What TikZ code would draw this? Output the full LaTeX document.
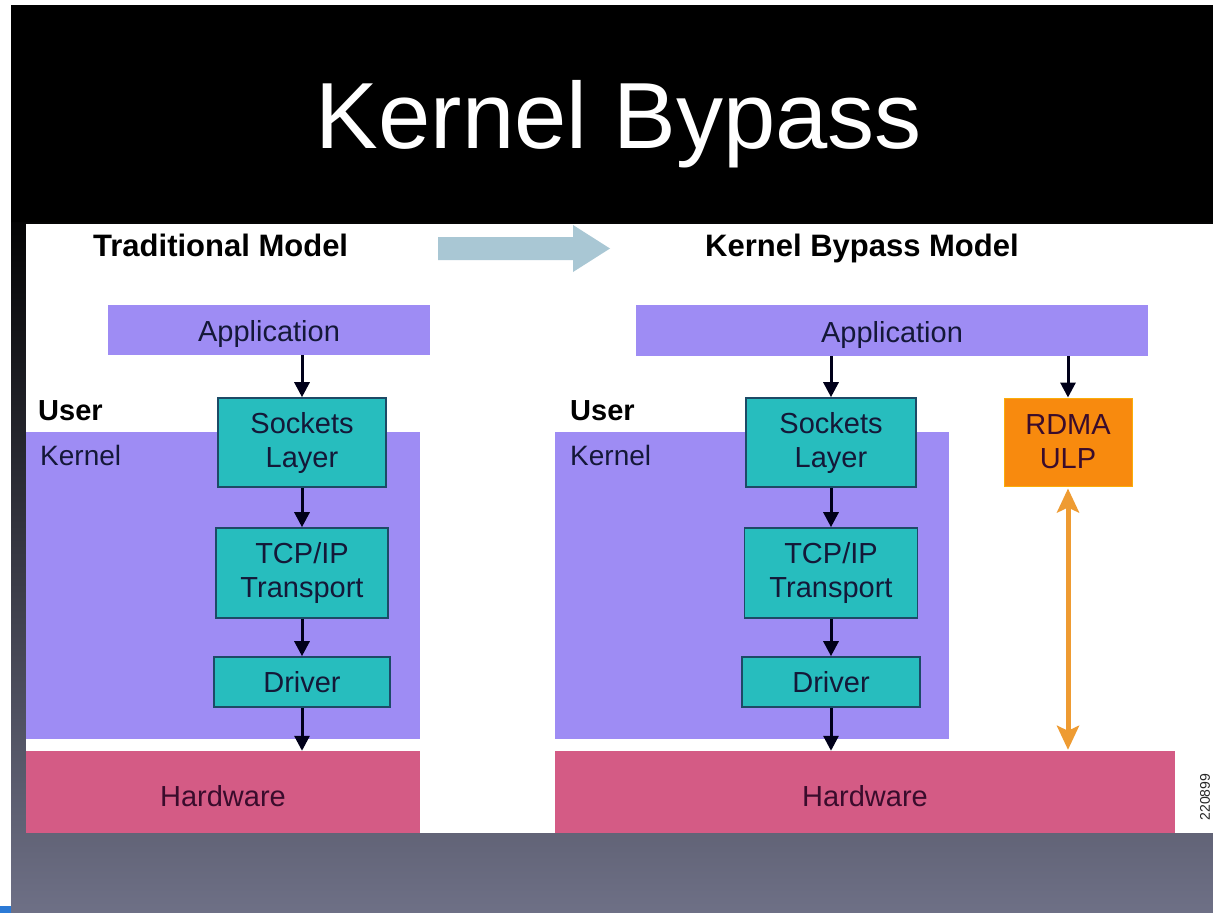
\documentclass[tikz,border=0pt]{standalone}
\usepackage{fontspec}
\setmainfont{Liberation Sans}
\usetikzlibrary{arrows.meta}
\definecolor{lav}{HTML}{9E8CF4}
\definecolor{tealfill}{HTML}{27BDBE}
\definecolor{tealedge}{HTML}{1D4A66}
\definecolor{hwcol}{HTML}{D45B85}
\definecolor{orng}{HTML}{F88A0E}
\definecolor{orarrow}{HTML}{EE9B32}
\definecolor{bigarrow}{HTML}{A9C7D4}
\definecolor{bgmid}{HTML}{35335F}
\definecolor{bgbot}{HTML}{6E7086}
\definecolor{txt}{HTML}{141838}
\definecolor{hwtxt}{HTML}{3A0C2C}
\definecolor{marker}{HTML}{2B7AD6}
\tikzset{
  region/.style={fill=lav, inner sep=0pt, draw=none},
  layerbox/.style={fill=lav, inner sep=0pt, text=txt, font=\fontsize{29}{34}\selectfont,
    text height=23pt, text depth=0pt},
  stackbox/.style={draw=tealedge, line width=1.6pt, fill=tealfill, align=center, inner sep=0pt,
    text=txt, font=\fontsize{29}{34}\selectfont},
  hwbox/.style={fill=hwcol, inner sep=0pt, text=hwtxt, font=\fontsize{29}{34}\selectfont,
    text height=29pt, text depth=0pt},
  rdmabox/.style={fill=orng, draw=orng!70!yellow, line width=1pt, inner sep=0pt, align=center,
    text=hwtxt, font=\fontsize{29}{34}\selectfont},
  heading/.style={anchor=base west, font=\bfseries\fontsize{31}{34}\selectfont, text=black},
  userlbl/.style={anchor=base west, font=\bfseries\fontsize{29}{34}\selectfont, text=black},
  kernlbl/.style={anchor=base west, font=\fontsize{28}{34}\selectfont, text=txt},
  arr/.style={-{Triangle[length=15pt,width=15pt]}, line width=3pt, draw=black!90!blue},
  oarr/.style={{Stealth[length=24pt,width=22pt,inset=5pt]}-{Stealth[length=24pt,width=22pt,inset=5pt]},
    line width=5pt, draw=orarrow, shorten <=2pt, shorten >=1pt}
}
\begin{document}
\begin{tikzpicture}[x=1pt,y=-1pt]
\useasboundingbox (0,0) rectangle (1213,913);
% background
\fill[white] (0,0) rectangle (1213,913);
\fill[top color=black, middle color=bgmid, bottom color=bgbot] (11,200) rectangle (1213,913);
\fill[black] (11,5) rectangle (1213,222);
\fill[marker] (0,906) rectangle (11,913);
% title
\node[anchor=base, text=white, font=\fontsize{94}{100}\selectfont, inner sep=0pt] (title) at (619,148) {Kernel Bypass};
% white panel
\fill[white] (26,224) rectangle (1213,833);
% headings and big arrow
\node[heading, inner sep=0pt] (h1) at (93,256) {Traditional Model};
\node[heading, inner sep=0pt] (h2) at (705,256) {Kernel Bypass Model};
\fill[bigarrow] (438,237) -- (573,237) -- (573,225) -- (610,248.5) -- (573,272) -- (573,260) -- (438,260) -- cycle;

% ---------- left: traditional model ----------
\node[region, minimum width=394pt, minimum height=307pt] (kern1) at (223,585.5) {};
\node[hwbox, minimum width=394pt, minimum height=82pt] (hw1) at (223,792) {Hardware};
\node[layerbox, minimum width=322pt, minimum height=50pt] (app1) at (269,330) {Application};
\node[userlbl, inner sep=0pt] (user1) at (38,420) {User};
\node[kernlbl, inner sep=0pt] (klbl1) at (40,465) {Kernel};
\node[stackbox, minimum width=168pt, minimum height=89pt] (sock1) at (302,442.5) {Sockets\\Layer};
\node[stackbox, minimum width=172pt, minimum height=90pt] (tcp1) at (302,573) {TCP/IP\\Transport};
\node[stackbox, minimum width=176pt, minimum height=50pt, text height=21pt, text depth=0pt] (drv1) at (302,682) {Driver};
\draw[arr] (app1.south -| sock1.north) -- (sock1.north);
\draw[arr] (sock1.south) -- (tcp1.north);
\draw[arr] (tcp1.south) -- (drv1.north);
\draw[arr] (drv1.south) -- (drv1.south |- hw1.north);

% ---------- right: kernel bypass model ----------
\node[region, minimum width=394pt, minimum height=307pt] (kern2) at (752,585.5) {};
\node[hwbox, minimum width=620pt, minimum height=82pt] (hw2) at (865,792) {Hardware};
\node[layerbox, minimum width=512pt, minimum height=51pt] (app2) at (892,330.5) {Application};
\node[userlbl, inner sep=0pt] (user2) at (570,420) {User};
\node[kernlbl, inner sep=0pt] (klbl2) at (570,465) {Kernel};
\node[stackbox, minimum width=170pt, minimum height=89pt] (sock2) at (831,442.5) {Sockets\\Layer};
\node[stackbox, minimum width=173pt, minimum height=90pt] (tcp2) at (831,573) {TCP/IP\\Transport};
\node[stackbox, minimum width=178pt, minimum height=50pt, text height=21pt, text depth=0pt] (drv2) at (831,682) {Driver};
\node[rdmabox, minimum width=128pt, minimum height=88pt] (rdma) at (1068,442) {RDMA\\ULP};
\draw[arr] (app2.south -| sock2.north) -- (sock2.north);
\draw[arr] (sock2.south) -- (tcp2.north);
\draw[arr] (tcp2.south) -- (drv2.north);
\draw[arr] (drv2.south) -- (drv2.south |- hw2.north);
\draw[arr] (app2.south -| rdma.north) -- (rdma.north);
\draw[oarr] (rdma.south) -- (rdma.south |- hw2.north);

% figure number
\node[rotate=90, font=\fontsize{14}{14}\selectfont, text=black!85, inner sep=0pt] (fignum) at (1205,797) {220899};
\end{tikzpicture}
\end{document}
